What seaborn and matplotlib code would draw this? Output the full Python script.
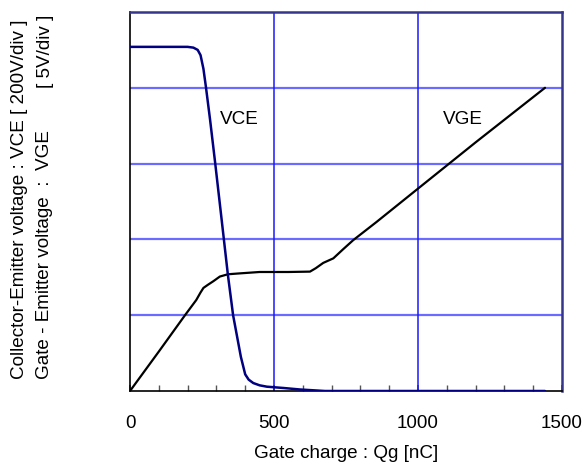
import numpy as np
import pandas as pd
import seaborn as sns
import matplotlib
matplotlib.use("Agg")
import matplotlib.pyplot as plt

# gate charge curve (y in divisions)
qg_vce = [0, 100, 200, 220, 235, 245, 255, 264, 278, 296, 320, 340, 358, 385, 400, 412, 428, 450, 475, 532, 590, 677, 900, 1200, 1441]
vce_div = [4.54, 4.54, 4.54, 4.53, 4.5, 4.43, 4.25, 4.0, 3.58, 3.0, 2.2, 1.53, 1.0, 0.45, 0.22, 0.15, 0.105, 0.075, 0.057, 0.04, 0.02, 0.0, 0.0, 0.0, 0.0]

qg_vge = [0, 100, 191, 230, 245, 255, 270, 290, 312, 340, 375, 450, 550, 625, 645, 671, 706, 740, 775, 856, 1000, 1200, 1441]
vge_div = [0.0, 0.52, 1.0, 1.2, 1.3, 1.36, 1.40, 1.45, 1.51, 1.54, 1.55, 1.57, 1.57, 1.575, 1.62, 1.69, 1.75, 1.87, 1.99, 2.23, 2.67, 3.28, 4.0]

x_ticks = [0, 500, 1000, 1500]

sns.set_theme(style="white")
plt.rcParams['font.family'] = ['Liberation Sans', 'DejaVu Sans']
plt.rcParams['text.color'] = 'black'
plt.rcParams['axes.labelcolor'] = 'black'
plt.rcParams['xtick.color'] = 'black'

fs = 13.6

fig = plt.figure(figsize=(5.84, 4.66), dpi=100)
ax = fig.add_axes([130/584, 1 - 391/466, 432/584, 379/466])

for y in [1, 2, 3, 4]:
    ax.axhline(y, color='#6b6bff', lw=1.6, zorder=1)
for x in [500, 1000]:
    ax.axvline(x, color='#1a1aff', lw=1.1, zorder=1)

df_vce = pd.DataFrame({'Qg': qg_vce, 'V': vce_div})
df_vge = pd.DataFrame({'Qg': qg_vge, 'V': vge_div})
sns.lineplot(data=df_vge, x='Qg', y='V', ax=ax, color='black', lw=1.6, estimator=None, zorder=3)
sns.lineplot(data=df_vce, x='Qg', y='V', ax=ax, color='#000080', lw=1.8, estimator=None, zorder=4)

ax.set_xlim(0, 1500)
ax.set_ylim(0, 5)
ax.set_xticks(x_ticks)
ax.set_xticklabels([str(t) for t in x_ticks], fontsize=fs)
ax.set_xticks(range(0, 1501, 100), minor=True)
ax.tick_params(axis='x', which='both', direction='in', length=4, color='#555555',
               labelcolor='black', pad=17, bottom=True)
ax.set_yticks([])
ax.set_xlabel('Gate charge : Qg [nC]', fontsize=fs, labelpad=10, color='black')
ax.set_ylabel('')

for s in ['left', 'bottom']:
    ax.spines[s].set_color('black')
    ax.spines[s].set_linewidth(1.2)
for s in ['top', 'right']:
    ax.spines[s].set_color('#35358a')
    ax.spines[s].set_linewidth(1.8)

ax.text(378, 3.58, 'VCE', fontsize=fs, ha='center', va='center', color='black')
ax.text(1156, 3.58, 'VGE', fontsize=fs, ha='center', va='center', color='black')

fig.text(20/584, 1 - 379/466, 'Collector-Emitter voltage : VCE [ 200V/div ]',
         rotation=90, fontsize=fs, ha='center', va='bottom', color='black')
fig.text(45/584, 1 - 379/466, 'Gate - Emitter voltage  :  VGE',
         rotation=90, fontsize=fs, ha='center', va='bottom', color='black')
fig.text(45/584, 1 - 15/466, '[ 5V/div ]',
         rotation=90, fontsize=fs, ha='center', va='top', color='black')

fig.savefig('out.png', dpi=100)
